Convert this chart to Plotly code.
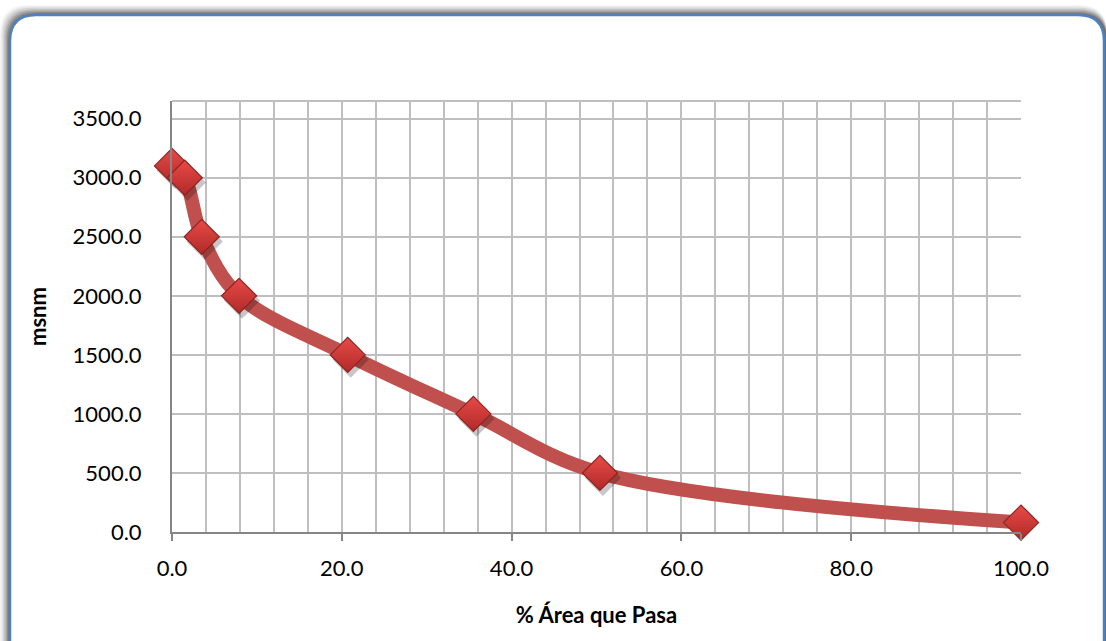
"""Curva hipsométrica: % área que pasa vs msnm."""

import plotly.graph_objects as go

# datos
area_pct = [0.0, 1.5, 3.5, 7.9, 20.7, 35.5, 50.4, 100.0]
msnm = [3100.0, 3000.0, 2500.0, 2000.0, 1500.0, 1000.0, 500.0, 80.0]

W, H = 1106, 641
ML, MR, MT, MB = 172, 85, 101, 109
PW, PH = W - ML - MR, H - MT - MB
FONT = "Lato, 'Open Sans', sans-serif"
RED = "#C0504D"
GRID = "#BFBFBF"
AXIS = "#868686"


def rounded_rect(x0, y0, x1, y1, r):
    # píxeles de la figura -> coordenadas paper (relativas al área de trazado)
    def px(x, y):
        return f"{(x - ML) / PW:.5f},{(H - MB - y) / PH:.5f}"

    return (
        f"M {px(x0 + r, y0)} L {px(x1 - r, y0)} "
        f"Q {px(x1, y0)} {px(x1, y0 + r)} L {px(x1, y1 - r)} "
        f"Q {px(x1, y1)} {px(x1 - r, y1)} L {px(x0 + r, y1)} "
        f"Q {px(x0, y1)} {px(x0, y1 - r)} L {px(x0, y0 + r)} "
        f"Q {px(x0, y0)} {px(x0 + r, y0)} Z"
    )


fig = go.Figure()

fig.add_trace(
    go.Scatter(
        x=area_pct,
        y=msnm,
        mode="lines",
        line=dict(color=RED, width=14, shape="spline", smoothing=1.0),
        hoverinfo="skip",
        showlegend=False,
    )
)
# sombra de marcadores
fig.add_trace(
    go.Scatter(
        x=[v + 0.35 for v in area_pct],
        y=[v - 40 for v in msnm],
        mode="markers",
        marker=dict(symbol="diamond", size=28, color="rgba(0,0,0,0.22)", line=dict(width=0)),
        hoverinfo="skip",
        showlegend=False,
        cliponaxis=False,
    )
)
fig.add_trace(
    go.Scatter(
        x=area_pct,
        y=msnm,
        mode="markers",
        marker=dict(
            symbol="diamond",
            size=27,
            color="#E84A48",
            gradient=dict(type="vertical", color="#B02A28"),
            line=dict(color="#8E2422", width=1.2),
        ),
        showlegend=False,
        cliponaxis=False,
    )
)

shapes = []
# sombra del marco
for i, a in enumerate([0.04, 0.06, 0.08, 0.10, 0.13, 0.16, 0.20]):
    o = 10 - i * 1.4
    shapes.append(
        dict(
            type="path", xref="paper", yref="paper", layer="below",
            path=rounded_rect(10 - o, 15 - o, 1104 + 3, 641 + 40, 28),
            fillcolor=f"rgba(0,0,0,{a})", line=dict(width=0),
        )
    )
shapes.append(
    dict(
        type="path", xref="paper", yref="paper", layer="below",
        path=rounded_rect(10, 15, 1104, 641 + 40, 26),
        fillcolor="white", line=dict(color="#4F81BD", width=2.5),
    )
)
# borde superior del área de trazado
shapes.append(
    dict(
        type="line", xref="paper", yref="paper", x0=0, x1=1, y0=1, y1=1,
        line=dict(color=GRID, width=2),
    )
)

fig.update_layout(
    width=W,
    height=H,
    margin=dict(l=ML, r=MR, t=MT, b=MB),
    paper_bgcolor="white",
    plot_bgcolor="rgba(0,0,0,0)",
    font=dict(family=FONT, size=22, color="#000000"),
    shapes=shapes,
    showlegend=False,
)

fig.update_xaxes(
    range=[0, 100],
    dtick=20,
    tickformat=".1f",
    ticks="outside",
    ticklen=7,
    tickwidth=2,
    tickcolor=AXIS,
    ticklabelstandoff=9,
    showline=True,
    linecolor=AXIS,
    linewidth=2,
    showgrid=True,
    gridcolor=GRID,
    gridwidth=2,
    minor=dict(dtick=4, showgrid=True, gridcolor=GRID, gridwidth=2),
    zeroline=False,
    title=dict(text="<b>% Área que Pasa</b>", font=dict(size=22), standoff=27),
)
fig.update_yaxes(
    range=[0, 3650],
    tick0=0,
    dtick=500,
    tickformat=".1f",
    ticks="",
    ticklabelstandoff=24,
    showline=True,
    linecolor=AXIS,
    linewidth=2,
    showgrid=True,
    gridcolor=GRID,
    gridwidth=2,
    zeroline=False,
    title=dict(text="<b>msnm</b>", font=dict(size=22), standoff=20),
)

fig.write_html(
    "out.html",
    config={"displayModeBar": False},
    post_script="document.body.style.margin='0px';",
)
